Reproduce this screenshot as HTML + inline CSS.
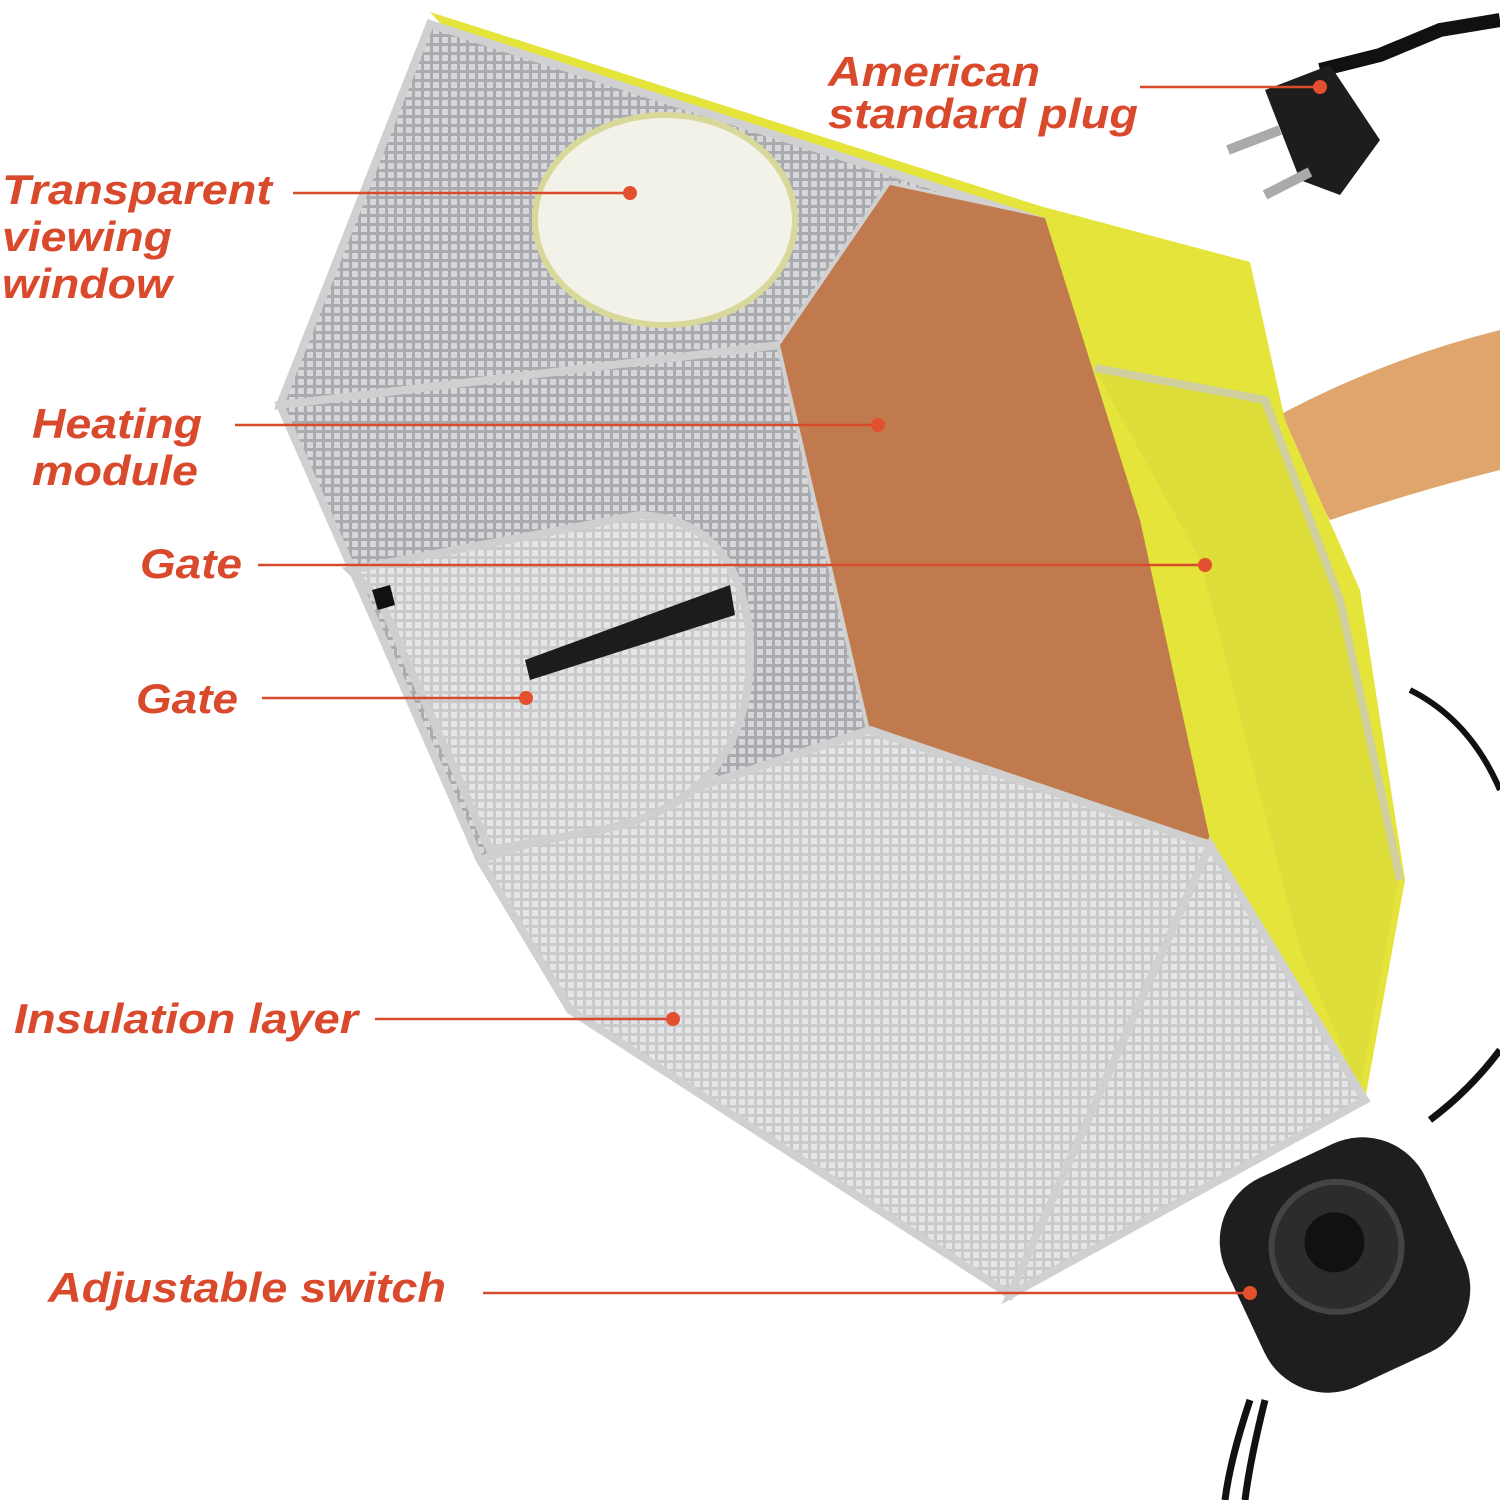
<!DOCTYPE html>
<html><head><meta charset="utf-8"><style>
html,body{margin:0;padding:0;background:#fff;}
svg{display:block}
text{font-family:"Liberation Sans",sans-serif;font-weight:bold;font-style:italic;fill:#d9492c;font-size:42px}
</style></head><body>
<svg width="1500" height="1500" viewBox="0 0 1500 1500" xmlns="http://www.w3.org/2000/svg">
<defs>
<pattern id="mesh" width="9" height="9" patternUnits="userSpaceOnUse">
<rect width="9" height="9" fill="#c9cacc"/><rect x="1" y="1" width="6" height="6" fill="#e4e5e7"/>
</pattern>
<pattern id="mesh2" width="9" height="9" patternUnits="userSpaceOnUse">
<rect width="9" height="9" fill="#a9abaf"/><rect x="1" y="1" width="6" height="6" fill="#d6d7da"/>
</pattern>
</defs>
<path d="M1270 420 Q1380 360 1500 330 L1500 470 Q1420 490 1330 520 Z" fill="#dfa56d"/>
<path d="M430 12 L1040 206 L1250 262 L1285 420 L1360 590 L1405 880 L1365 1100 L1200 845 Z" fill="#e4e43a"/>
<path d="M1095 370 L1270 400 L1330 570 L1400 870 L1360 1090 L1300 950 L1200 560 Z" fill="#dede3a"/>
<path d="M1095 368 L1265 400 L1340 600 L1400 880" fill="none" stroke="#cfcfa0" stroke-width="8"/>
<path d="M430 24 L1045 222 L890 185 L780 345 L280 405 Z" fill="url(#mesh2)" stroke="#d0d0d0" stroke-width="8"/>
<path d="M280 405 L780 345 L870 730 L480 860 Z" fill="url(#mesh2)" stroke="#d0d0d0" stroke-width="8"/>
<path d="M780 345 L890 185 L1045 218 L1140 520 L1210 840 L1060 800 L870 730 Z" fill="#c07a4e"/>
<path d="M480 860 L870 730 L1210 845 L1010 1295 L570 1010 Z" fill="url(#mesh)" stroke="#d0d0d0" stroke-width="8"/>
<path d="M1210 845 L1365 1100 L1010 1295 Z" fill="url(#mesh)" stroke="#d0d0d0" stroke-width="8"/>
<ellipse cx="665" cy="220" rx="130" ry="105" fill="#f2f2e8" stroke="#d8d89a" stroke-width="6"/>
<path d="M350 570 L640 515 Q740 520 750 640 Q755 800 600 830 L490 850 L380 600 Z" fill="url(#mesh)" stroke="#cfcfcf" stroke-width="8"/>
<path d="M525 660 L730 585 L735 615 L530 680 Z" fill="#1c1c1c"/>
<path d="M372 590 L390 585 L395 605 L378 610 Z" fill="#111"/>
<path d="M1500 20 L1440 30 L1380 55 L1320 70" fill="none" stroke="#111" stroke-width="14"/>
<path d="M1265 90 L1330 65 L1380 140 L1340 195 L1300 180 Z" fill="#1d1d1d"/>
<path d="M1228 150 L1280 130 M1265 195 L1310 172" stroke="#aaa" stroke-width="10"/>
<path d="M1410 690 Q1470 720 1500 790" fill="none" stroke="#111" stroke-width="6"/>
<path d="M1430 1120 Q1470 1090 1500 1050" fill="none" stroke="#111" stroke-width="7"/>
<path d="M1250 1400 Q1230 1460 1225 1500 M1265 1400 Q1250 1460 1245 1500" fill="none" stroke="#111" stroke-width="7"/>
<g transform="rotate(-25 1345 1265)">
<rect x="1235" y="1150" width="220" height="230" rx="70" fill="#1e1e1e"/>
<circle cx="1345" cy="1245" r="65" fill="#2c2c2c" stroke="#444" stroke-width="6"/>
<circle cx="1345" cy="1240" r="30" fill="#111"/>
</g>
<g stroke="#d9492c" stroke-width="2.5" fill="none">
<line x1="293" y1="193" x2="630" y2="193"/>
<line x1="235" y1="425" x2="878" y2="425"/>
<line x1="258" y1="565" x2="1205" y2="565"/>
<line x1="262" y1="698" x2="526" y2="698"/>
<line x1="375" y1="1019" x2="673" y2="1019"/>
<line x1="483" y1="1293" x2="1250" y2="1293"/>
<line x1="1140" y1="87" x2="1320" y2="87"/>
</g>
<g fill="#e2502f">
<circle cx="630" cy="193" r="7"/><circle cx="878" cy="425" r="7"/><circle cx="1205" cy="565" r="7"/>
<circle cx="526" cy="698" r="7"/><circle cx="673" cy="1019" r="7"/><circle cx="1250" cy="1293" r="7"/><circle cx="1320" cy="87" r="7"/>
</g>
<text x="2" y="204" textLength="270" lengthAdjust="spacingAndGlyphs">Transparent</text>
<text x="2" y="251" textLength="170" lengthAdjust="spacingAndGlyphs">viewing</text>
<text x="2" y="298" textLength="170" lengthAdjust="spacingAndGlyphs">window</text>
<text x="32" y="438" textLength="170" lengthAdjust="spacingAndGlyphs">Heating</text>
<text x="32" y="485" textLength="166" lengthAdjust="spacingAndGlyphs">module</text>
<text x="140" y="578" textLength="102" lengthAdjust="spacingAndGlyphs">Gate</text>
<text x="136" y="713" textLength="102" lengthAdjust="spacingAndGlyphs">Gate</text>
<text x="14" y="1033" textLength="344" lengthAdjust="spacingAndGlyphs">Insulation layer</text>
<text x="48" y="1302" textLength="398" lengthAdjust="spacingAndGlyphs">Adjustable switch</text>
<text x="828" y="86" textLength="212" lengthAdjust="spacingAndGlyphs">American</text>
<text x="828" y="128" textLength="310" lengthAdjust="spacingAndGlyphs">standard plug</text>
</svg>
</body></html>
